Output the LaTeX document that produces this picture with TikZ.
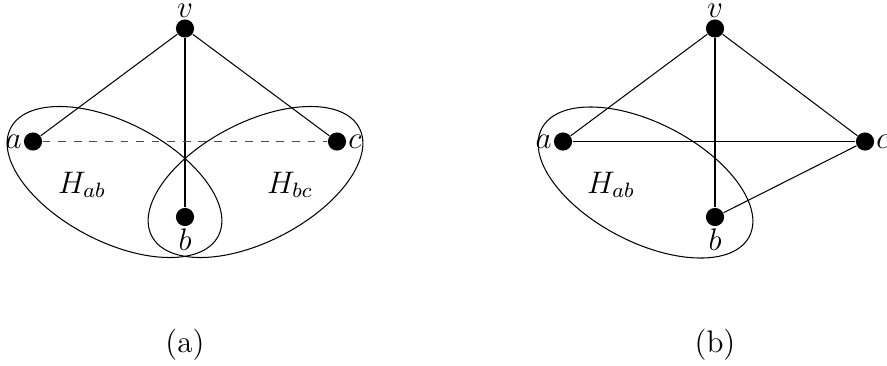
\documentclass[tikz,border=0pt]{standalone}
\begin{document}
\begin{tikzpicture}[x=0.385pt,y=-0.385pt,
  every node/.style={font=\fontsize{12}{14}\selectfont},
  dot/.style={circle,fill=black,inner sep=0pt,minimum size=7pt},
  lbl/.style={inner sep=0.5pt},
  edge/.style={line width=0.4pt},
  hull/.style={line width=0.4pt}]
\useasboundingbox (0,0) rectangle (887,365);
% (a)
\node[dot,label={[lbl]above:$v$}] (v1) at (185,28.5) {};
\node[dot,label={[lbl]left:$a$}] (a1) at (33,141.5) {};
\node[dot,label={[lbl]right:$c$}] (c1) at (337,141.5) {};
\node[dot,label={[lbl]below:$b$}] (b1) at (185,217) {};
\draw[hull,rotate around={-27.5:(114.5,182)}] (114.5,182) ellipse (117 and 59.5);
\draw[hull,rotate around={27.5:(255.5,182)}] (255.5,182) ellipse (117 and 59.5);
\draw[edge] (v1) -- (a1);
\draw[edge] (v1) -- (c1);
\draw[edge] (v1) -- (b1);
\draw[edge,dashed,black!70] (a1) -- (c1);
\node (hab1) at (82,185) {$H_{ab}$};
\node (hbc1) at (290,185) {$H_{bc}$};
\node (capa) at (185,344.5) {(a)};
% (b)
\node[dot,label={[lbl]above:$v$}] (v2) at (715,28.5) {};
\node[dot,label={[lbl]left:$a$}] (a2) at (563,141.5) {};
\node[dot,label={[lbl]right:$c$}] (c2) at (865,141.5) {};
\node[dot,label={[lbl]below:$b$}] (b2) at (715,217) {};
\draw[hull,rotate around={-27.5:(645.5,182.5)}] (645.5,182.5) ellipse (117 and 59.5);
\draw[edge] (v2) -- (a2);
\draw[edge] (v2) -- (c2);
\draw[edge] (v2) -- (b2);
\draw[edge] (a2) -- (c2);
\draw[edge] (b2) -- (c2);
\node (hab2) at (611,185) {$H_{ab}$};
\node (capb) at (715,344.5) {(b)};
\end{tikzpicture}
\end{document}
